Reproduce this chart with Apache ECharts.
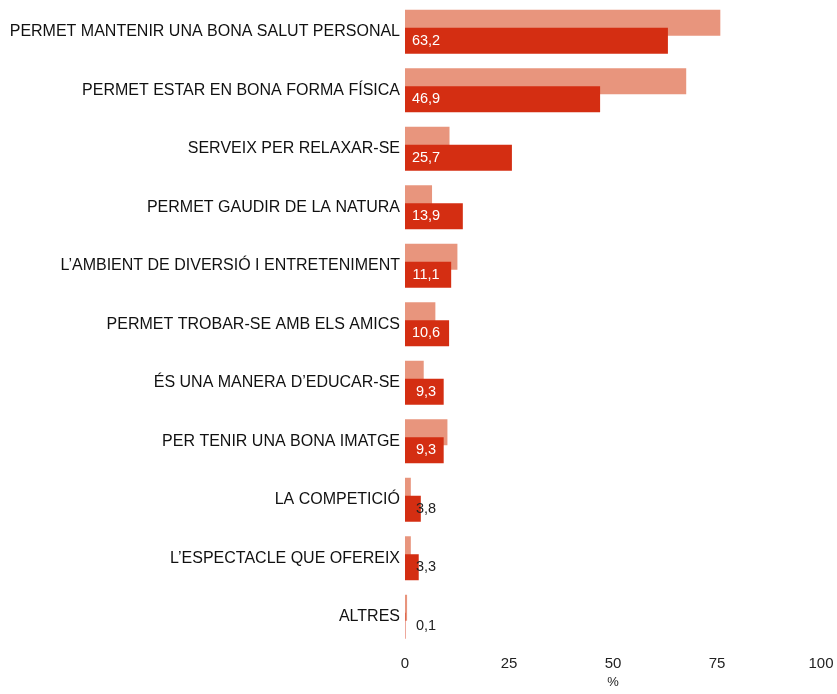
<!DOCTYPE html>
<html>
<head>
<meta charset="utf-8">
<script src="https://cdn.jsdelivr.net/npm/echarts@6/dist/echarts.min.js"></script>
<style>
  html, body { margin: 0; padding: 0; background: #fff; }
  #chart { width: 837px; height: 694px; }
</style>
</head>
<body>
<div id="chart"></div>
<script>
// categories, top to bottom
const categories = [
  'PERMET MANTENIR UNA BONA SALUT PERSONAL',
  'PERMET ESTAR EN BONA FORMA FÍSICA',
  'SERVEIX PER RELAXAR-SE',
  'PERMET GAUDIR DE LA NATURA',
  'L’AMBIENT DE DIVERSIÓ I ENTRETENIMENT',
  'PERMET TROBAR-SE AMB ELS AMICS',
  'ÉS UNA MANERA D’EDUCAR-SE',
  'PER TENIR UNA BONA IMATGE',
  'LA COMPETICIÓ',
  'L’ESPECTACLE QUE OFEREIX',
  'ALTRES'
];
// lighter bars (no label in the picture)
const lightValues = [75.8, 67.6, 10.7, 6.5, 12.6, 7.3, 4.5, 10.2, 1.4, 1.4, 0.5];
// darker bars, labelled
const darkValues = [63.2, 46.9, 25.7, 13.9, 11.1, 10.6, 9.3, 9.3, 3.8, 3.3, 0.1];
const xTicks = [0, 25, 50, 75, 100];

const chart = echarts.init(document.getElementById('chart'));

const fmt = v => String(v).replace('.', ',');

chart.setOption({
  animation: false,
  grid: { left: 405, right: 16, top: 2.5, bottom: 42.5, containLabel: false },
  xAxis: {
    type: 'value',
    min: xTicks[0],
    max: xTicks[xTicks.length - 1],
    interval: 25,
    name: '%',
    nameLocation: 'middle',
    nameGap: 30,
    nameTextStyle: { color: '#222', fontSize: 13, fontFamily: 'Liberation Sans' },
    axisLine: { show: false },
    axisTick: { show: false },
    splitLine: { show: false },
    axisLabel: { color: '#222', fontSize: 15, margin: 10, fontFamily: 'Liberation Sans' }
  },
  yAxis: {
    type: 'category',
    inverse: true,
    data: categories,
    axisLine: { show: false },
    axisTick: { show: false },
    axisLabel: { color: '#111', fontSize: 16, margin: 5, fontFamily: 'Liberation Sans', padding: [3, 0, 0, 0] }
  },
  series: [
    {
      type: 'bar',
      data: lightValues,
      barWidth: 26,
      barGap: '-30.8%',
      itemStyle: { color: '#E8957D' },
      silent: true
    },
    {
      type: 'bar',
      data: darkValues.map(v => ({
        value: v,
        label: { color: v < 5 ? '#222' : '#fff' }
      })),
      barWidth: 26,
      itemStyle: { color: '#D42E12' },
      label: {
        show: true,
        position: [21, '50%'],
        align: 'center',
        verticalAlign: 'middle',
        fontSize: 14.5,
        fontFamily: 'Liberation Sans',
        formatter: p => fmt(p.value)
      }
    }
  ]
});
</script>
</body>
</html>
